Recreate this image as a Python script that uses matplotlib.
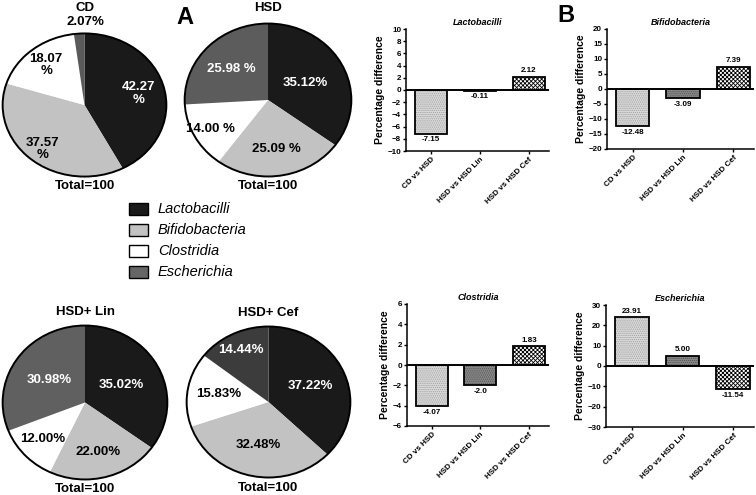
import numpy as np
import matplotlib
matplotlib.use("Agg")
import matplotlib.pyplot as plt
from matplotlib.patches import Rectangle, Ellipse

plt.rcParams['font.family'] = ['Liberation Sans', 'DejaVu Sans']
plt.rcParams['hatch.linewidth'] = 0.6

# ---- data ----
groups = ["Lactobacilli", "Bifidobacteria", "Clostridia", "Escherichia"]

pie_titles = ["CD", "HSD", "HSD+ Lin", "HSD+ Cef"]
pie_cd = [42.27, 37.57, 18.07, 2.07]
pie_hsd = [35.12, 25.09, 14.00, 25.98]
pie_lin = [35.02, 22.00, 12.00, 30.98]
pie_cef = [37.22, 32.48, 15.83, 14.44]
lab_cd = ["42.27\n%", "37.57\n%", "18.07\n%", ""]
lab_hsd = ["35.12%", "25.09 %", "14.00 %", "25.98 %"]
lab_lin = ["35.02%", "22.00%", "12.00%", "30.98%"]
lab_cef = ["37.22%", "32.48%", "15.83%", "14.44%"]

comparisons = ["CD vs HSD", "HSD vs HSD Lin", "HSD vs HSD Cef"]
diff_lacto = [-7.15, -0.11, 2.12]
diff_bifido = [-12.48, -3.09, 7.39]
diff_clos = [-4.07, -2.0, 1.83]
diff_esch = [23.91, 5.00, -11.54]
diff_text = {"Lactobacilli": ["-7.15", "-0.11", "2.12"],
             "Bifidobacteria": ["-12.48", "-3.09", "7.39"],
             "Clostridia": ["-4.07", "-2.0", "1.83"],
             "Escherichia": ["23.91", "5.00", "-11.54"]}

W, H = 756, 495
fig = plt.figure(figsize=(W / 100, H / 100), dpi=100)


def box(x0, y0, x1, y1):
    # pixel box (top-left origin) -> figure fraction rect
    return [x0 / W, 1 - y1 / H, (x1 - x0) / W, (y1 - y0) / H]


def ftext(x, y, s, **kw):
    fig.text(x / W, 1 - y / H, s, ha=kw.pop('ha', 'center'), va=kw.pop('va', 'center'), **kw)


def draw_pie(rect, vals, labels, dark, radii):
    ax = fig.add_axes(rect)
    cols = ['#1a1a1a', '#c2c2c2', '#ffffff', dark]
    txtcol = ['white', 'black', 'black', 'white']
    wedges, _ = ax.pie(vals, colors=cols, startangle=90, counterclock=False,
                       wedgeprops=dict(linewidth=0))
    ax.set_aspect('auto')
    ax.set_xlim(-1.02, 1.02)
    ax.set_ylim(-1.02, 1.02)
    ax.add_patch(Ellipse((0, 0), 2, 2, fill=False, edgecolor='black', linewidth=1.4))
    for w, lab, r, tc in zip(wedges, labels, radii, txtcol):
        a = np.deg2rad((w.theta1 + w.theta2) / 2)
        ax.text(r * np.cos(a), r * np.sin(a), lab, ha='center', va='center',
                color=tc, fontsize=9.5, fontweight='bold', linespacing=1.1)
    return ax


draw_pie(box(1, 32, 168, 178), pie_cd, lab_cd, '#5a5a5a', [0.68, 0.8, 0.73, 0.5])
draw_pie(box(183, 22, 353, 178), pie_hsd, lab_hsd, '#5c5c5c', [0.5, 0.65, 0.79, 0.6])
draw_pie(box(1, 324, 169, 481), pie_lin, lab_lin, '#606060', [0.5, 0.66, 0.7, 0.53])
draw_pie(box(185, 325, 352, 479), pie_cef, lab_cef, '#3c3c3c', [0.55, 0.59, 0.62, 0.76])

ftext(85, 8, pie_titles[0], fontsize=9.5, fontweight='bold')
ftext(85, 22, "2.07%", fontsize=9.5, fontweight='bold')
ftext(268, 8, pie_titles[1], fontsize=9.5, fontweight='bold')
ftext(85, 312, pie_titles[2], fontsize=9.5, fontweight='bold')
ftext(268, 313, pie_titles[3], fontsize=9.5, fontweight='bold')
for x, y in [(85, 186), (268, 186), (85, 489), (268, 488)]:
    ftext(x, y, "Total=100", fontsize=9.5, fontweight='bold')

ftext(185, 17, "A", fontsize=17, fontweight='bold')
ftext(566, 16, "B", fontsize=17, fontweight='bold')

# legend
leg_cols = ['#1a1a1a', '#c2c2c2', '#ffffff', '#666666']
for i, (g, c) in enumerate(zip(groups, leg_cols)):
    yc = 209 + 21 * i
    fig.add_artist(Rectangle((129 / W, 1 - (yc + 6) / H), 19 / W, 12 / H,
                             facecolor=c, edgecolor='black', linewidth=1.0,
                             transform=fig.transFigure))
    ftext(158, yc, g, ha='left', fontsize=10.5, fontstyle='italic')

# bar charts
bar_face = ['#dadada', '#8a8a8a', '#ffffff']
bar_hatch = ['........', '........', 'xxxxxxxx']
bar_hcol = ['#a0a0a0', '#505050', '#000000']


def draw_bars(rect, name, vals, lim, step):
    ax = fig.add_axes(rect)
    x = np.arange(len(vals))
    for xi, v, fc, h, hc in zip(x, vals, bar_face, bar_hatch, bar_hcol):
        ax.bar(xi, v, width=0.66, color=fc, hatch=h, edgecolor=hc, linewidth=0, zorder=2)
        ax.bar(xi, v, width=0.66, fill=False, edgecolor='black', linewidth=1.3, zorder=3)
    for xi, v, s in zip(x, vals, diff_text[name]):
        off = 2 if v >= 0 else -2
        ax.annotate(s, (xi, v), xytext=(0, off), textcoords='offset points',
                    ha='center', va='bottom' if v >= 0 else 'top',
                    fontsize=5.8, fontweight='bold')
    ax.axhline(0, color='black', linewidth=1.4, zorder=4)
    ax.set_xlim(-0.51, 2.41)
    ax.set_ylim(-lim, lim)
    ax.set_yticks(np.arange(-lim, lim + step / 2, step))
    ax.set_xticks(x)
    ax.set_xticklabels(comparisons, rotation=45, ha='right', va='top',
                       rotation_mode='anchor', fontsize=5.8, fontweight='bold')
    for t in ax.get_yticklabels():
        t.set_fontsize(5.8)
        t.set_fontweight('bold')
    ax.spines['top'].set_visible(False)
    ax.spines['right'].set_visible(False)
    ax.spines['left'].set_linewidth(1.1)
    ax.spines['bottom'].set_linewidth(1.1)
    ax.tick_params(axis='both', length=2.5, width=1.0, pad=1)
    ax.set_ylabel("Percentage difference", fontsize=7.5, fontweight='bold', labelpad=2)
    ax.set_title(name, fontsize=6.5, fontstyle='italic', fontweight='bold', pad=3)
    ax.patch.set_alpha(0)
    return ax


draw_bars(box(406, 29, 549, 151), groups[0], diff_lacto, 10, 2)
draw_bars(box(607, 29, 754, 149), groups[1], diff_bifido, 20, 5)
draw_bars(box(407, 304, 549, 426), groups[2], diff_clos, 6, 2)
draw_bars(box(606, 305, 754, 427), groups[3], diff_esch, 30, 10)

fig.savefig("out.png", dpi=100)
